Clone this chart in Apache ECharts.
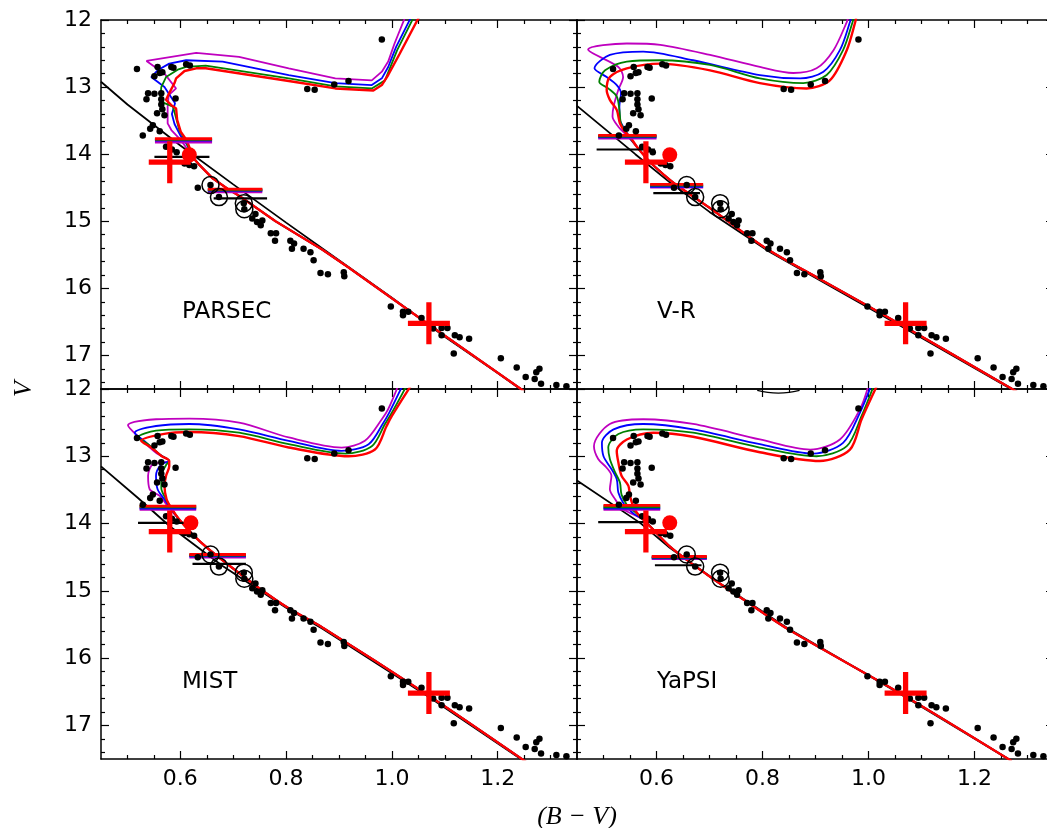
<!DOCTYPE html>
<html>
<head>
<meta charset="utf-8">
<script src="https://cdn.jsdelivr.net/npm/echarts@6/dist/echarts.min.js"></script>
<style>
  html, body { margin: 0; padding: 0; background: #fff; }
  #chart { width: 1047px; height: 828px; }
</style>
</head>
<body>
<div id="chart"></div>
<script>
// tick labels
const majorX = [0.6, 0.8, 1.0, 1.2];
const minorX = [0.5, 0.55, 0.65, 0.7, 0.75, 0.85, 0.9, 0.95, 1.05, 1.1, 1.15, 1.25, 1.3];
const majorY = [12, 13, 14, 15, 16, 17];
const minorY = [12.2, 12.4, 12.6, 12.8, 13.2, 13.4, 13.6, 13.8, 14.2, 14.4, 14.6, 14.8,
  15.2, 15.4, 15.6, 15.8, 16.2, 16.4, 16.6, 16.8, 17.2, 17.4];
const panelNames = ['PARSEC', 'V-R', 'MIST', 'YaPSI'];

// observed stars (B-V, V), same in every panel
const stars = [
  [0.518,12.73],[0.557,12.70],[0.561,12.79],[0.551,12.84],[0.566,12.78],[0.583,12.70],[0.587,12.71],[0.611,12.66],[0.618,12.68],
  [0.539,13.09],[0.536,13.18],[0.551,13.10],[0.564,13.09],[0.564,13.18],[0.591,13.17],[0.564,13.26],[0.566,13.33],[0.556,13.39],
  [0.570,13.42],[0.548,13.57],[0.543,13.62],[0.561,13.66],[0.529,13.72],
  [0.573,13.89],[0.584,13.93],[0.593,13.97],[0.608,14.14],[0.617,14.16],[0.626,14.18],[0.633,14.50],
  [0.657,14.46],[0.673,14.64],[0.720,14.73],[0.721,14.82],
  [0.742,14.89],[0.736,14.96],[0.745,15.01],[0.752,15.06],[0.755,14.99],[0.771,15.18],[0.781,15.18],[0.779,15.29],
  [0.808,15.29],[0.815,15.33],[0.811,15.41],[0.833,15.41],[0.846,15.46],[0.852,15.58],[0.865,15.77],[0.879,15.79],
  [0.909,15.76],[0.910,15.82],
  [0.998,16.27],[1.021,16.35],[1.021,16.40],[1.031,16.35],[1.056,16.44],[1.078,16.60],[1.094,16.59],[1.105,16.59],
  [1.094,16.70],[1.119,16.70],[1.128,16.73],[1.146,16.75],[1.117,16.97],[1.206,17.04],[1.236,17.18],[1.253,17.32],
  [1.270,17.35],[1.273,17.25],[1.279,17.20],[1.282,17.42],[1.311,17.44],[1.330,17.46],
  [0.981,12.29],[0.840,13.03],[0.854,13.04],[0.891,12.96],[0.918,12.91]
];
const circled = [[0.657,14.46],[0.673,14.64],[0.720,14.73],[0.721,14.82]];
const crosses = [[0.58,14.12],[1.07,16.52]];

// PARSEC
const parsecMagenta = [[1.028,11.9],[1.005,12.35],[0.993,12.62],[0.981,12.77],[0.962,12.90],[0.893,12.87],[0.805,12.72],
  [0.711,12.55],[0.630,12.49],[0.536,12.61],[0.570,12.80],[0.592,13.02],[0.578,13.12],[0.576,13.29],[0.576,13.54],
  [0.583,13.64],[0.601,13.79]];
const parsecBlue = [[1.04,11.9],[1.008,12.4],[0.993,12.70],[0.981,12.87],[0.962,12.97],[0.893,12.94],[0.805,12.82],
  [0.680,12.62],[0.611,12.60],[0.579,12.65],[0.557,12.75],[0.545,12.85],[0.570,13.0],[0.590,13.24],[0.584,13.40],
  [0.589,13.55],[0.600,13.72],[0.612,13.85]];
const parsecGreen = [[1.045,11.9],[1.01,12.45],[0.987,12.90],[0.962,13.02],[0.893,12.99],[0.805,12.87],[0.648,12.68],
  [0.611,12.70],[0.595,12.74],[0.573,12.85],[0.564,13.0],[0.562,13.17],[0.570,13.24],[0.586,13.29],[0.593,13.49],
  [0.598,13.64],[0.609,13.79]];
const parsecRed = [[1.055,11.9],[1.015,12.5],[0.993,12.82],[0.981,12.97],[0.965,13.05],[0.893,13.02],[0.805,12.91],
  [0.648,12.72],[0.630,12.72],[0.608,12.76],[0.592,12.87],[0.589,12.94],[0.579,13.09],[0.573,13.19],[0.583,13.27],
  [0.592,13.32],[0.594,13.49],[0.601,13.67],[0.612,13.79]];
const parsecMS = [[0.625,14.06],[0.636,14.16],[0.661,14.36],[0.692,14.53],[0.711,14.62],[0.78,15.0],[0.868,15.42],
  [0.918,15.69],[1.059,16.48],[1.253,17.55]];
const parsecZams = [[0.45,12.92],[0.5,13.26],[0.6,13.87],[0.7,14.45],[0.8,15.02],[0.9,15.58],[1.0,16.14],[1.1,16.72],
  [1.2,17.26],[1.26,17.6]];
const parsecBars = [[0.552,0.660,13.82,13.79,13.78,13.77],[0.652,0.755,14.56,14.54,14.53,14.52]];
const parsecBlackBars = [[0.551,0.655,14.04],[0.663,0.764,14.66]];
const parsecRedDot = [[0.617,14.01]];

// V-R
const vrMagenta = [[0.962,11.95],[0.959,12.03],[0.934,12.45],[0.902,12.72],[0.858,12.79],[0.795,12.70],[0.701,12.52],
  [0.607,12.37],[0.544,12.35],[0.471,12.44],[0.528,12.70],[0.537,12.85],[0.528,13.04],[0.519,13.29],[0.517,13.44],
  [0.528,13.59],[0.544,13.72]];
const vrBlue = [[0.967,11.95],[0.965,12.03],[0.946,12.45],[0.915,12.77],[0.871,12.87],[0.795,12.82],[0.669,12.60],
  [0.575,12.47],[0.512,12.52],[0.483,12.72],[0.506,12.85],[0.525,12.97],[0.533,13.09],[0.530,13.29],[0.531,13.49],
  [0.541,13.64],[0.547,13.72]];
const vrGreen = [[0.972,11.95],[0.970,12.03],[0.952,12.45],[0.921,12.82],[0.877,12.94],[0.795,12.87],[0.701,12.67],
  [0.607,12.60],[0.544,12.62],[0.503,12.75],[0.492,12.92],[0.509,13.02],[0.525,13.14],[0.530,13.34],[0.533,13.54],
  [0.544,13.69]];
const vrRed = [[0.977,11.95],[0.975,12.03],[0.959,12.45],[0.927,12.90],[0.883,13.02],[0.795,12.94],[0.701,12.75],
  [0.607,12.65],[0.544,12.72],[0.512,12.85],[0.506,13.04],[0.512,13.19],[0.525,13.34],[0.531,13.54],[0.541,13.67],
  [0.550,13.74]];
const vrMS = [[0.563,13.89],[0.588,14.12],[0.613,14.30],[0.638,14.46],[0.70,14.80],[0.808,15.41],[0.908,15.86],
  [1.07,16.58],[1.28,17.54]];
const vrZams = [[0.45,13.28],[0.56,14.0],[0.625,14.42],[0.70,14.86],[0.808,15.43],[0.908,15.88],[1.07,16.6],[1.28,17.55]];
const vrBars = [[0.490,0.600,13.76,13.74,13.73,13.72],[0.588,0.688,14.49,14.48,14.46,14.45]];
const vrBlackBars = [[0.487,0.597,13.93],[0.594,0.682,14.58]];
const vrRedDot = [[0.625,14.01]];

// MIST
const mistMagenta = [[1.012,11.95],[0.993,12.30],[0.981,12.45],[0.949,12.77],[0.905,12.87],[0.805,12.72],[0.711,12.50],
  [0.617,12.44],[0.554,12.45],[0.501,12.54],[0.526,12.75],[0.554,12.95],[0.579,13.07],[0.548,13.12],[0.539,13.29],
  [0.542,13.49],[0.561,13.59],[0.576,13.74]];
const mistBlue = [[1.02,11.95],[0.995,12.35],[0.984,12.50],[0.956,12.82],[0.905,12.92],[0.805,12.77],[0.711,12.60],
  [0.617,12.52],[0.554,12.55],[0.514,12.65],[0.536,12.80],[0.560,12.97],[0.579,13.07],[0.564,13.12],[0.554,13.29],
  [0.557,13.49],[0.570,13.64],[0.580,13.76]];
const mistGreen = [[1.028,11.95],[0.998,12.38],[0.987,12.52],[0.962,12.85],[0.912,12.96],[0.805,12.82],[0.711,12.65],
  [0.617,12.60],[0.554,12.62],[0.520,12.72],[0.539,12.82],[0.562,12.98],[0.579,13.07],[0.573,13.13],[0.564,13.29],
  [0.564,13.47],[0.573,13.64],[0.582,13.76]];
const mistRed = [[1.036,11.95],[1.0,12.4],[0.990,12.55],[0.968,12.90],[0.918,13.0],[0.805,12.87],[0.711,12.70],
  [0.617,12.64],[0.567,12.67],[0.526,12.77],[0.545,12.87],[0.565,13.0],[0.579,13.07],[0.579,13.15],[0.573,13.29],
  [0.570,13.44],[0.574,13.64],[0.583,13.77]];
const mistMS = [[0.598,13.94],[0.623,14.16],[0.655,14.39],[0.692,14.62],[0.742,14.92],[0.805,15.26],[0.868,15.54],
  [1.07,16.56],[1.255,17.55]];
const mistZams = [[0.45,13.15],[0.52,13.62],[0.58,14.04],[0.68,14.63],[0.80,15.25],[0.868,15.56],[1.07,16.58],[1.255,17.56]];
const mistBars = [[0.523,0.630,13.79,13.77,13.75,13.74],[0.617,0.724,14.50,14.48,14.47,14.46]];
const mistBlackBars = [[0.520,0.611,13.99],[0.623,0.724,14.60]];
const mistRedDot = [[0.620,13.99]];

// YaPSI
const yapsiMagenta = [[1.0,11.95],[0.984,12.30],[0.946,12.75],[0.890,12.90],[0.795,12.75],[0.669,12.52],[0.575,12.45],
  [0.512,12.52],[0.482,12.85],[0.490,13.04],[0.506,13.17],[0.515,13.29],[0.512,13.49],[0.522,13.64],[0.534,13.77],
  [0.552,13.85]];
const yapsiBlue = [[1.005,11.95],[0.984,12.35],[0.952,12.80],[0.896,12.96],[0.795,12.82],[0.669,12.60],[0.575,12.52],
  [0.519,12.60],[0.497,12.80],[0.500,13.0],[0.515,13.19],[0.525,13.34],[0.528,13.54],[0.537,13.69],[0.548,13.79],
  [0.558,13.86]];
const yapsiGreen = [[1.01,11.95],[0.987,12.40],[0.959,12.85],[0.902,13.0],[0.795,12.87],[0.669,12.65],[0.575,12.60],
  [0.528,12.67],[0.509,12.87],[0.512,13.04],[0.522,13.24],[0.531,13.39],[0.534,13.57],[0.544,13.72],[0.558,13.82]];
const yapsiRed = [[1.016,11.95],[0.987,12.45],[0.965,12.90],[0.908,13.07],[0.795,12.94],[0.669,12.71],[0.594,12.65],
  [0.544,12.75],[0.525,12.92],[0.528,13.09],[0.534,13.29],[0.547,13.44],[0.550,13.59],[0.556,13.74],[0.563,13.84]];
const yapsiMS = [[0.575,13.94],[0.600,14.14],[0.625,14.34],[0.657,14.54],[0.701,14.79],[0.764,15.13],[0.846,15.56],
  [1.07,16.57],[1.27,17.53]];
const yapsiZams = [[0.45,13.36],[0.569,13.99],[0.625,14.36],[0.72,14.89],[0.795,15.28],[0.846,15.55],[1.07,16.58],[1.27,17.53]];
const yapsiBars = [[0.500,0.607,13.79,13.77,13.75,13.73],[0.591,0.695,14.52,14.51,14.50,14.49]];
const yapsiBlackBars = [[0.490,0.591,13.98],[0.597,0.685,14.62]];
const yapsiRedDot = [[0.625,13.99]];
const yapsiArc = [[0.79,12.02],[0.81,12.05],[0.83,12.06],[0.85,12.05],[0.87,12.02]];

const panels = [
  {iso: [parsecMagenta, parsecBlue, parsecGreen, parsecRed], ms: parsecMS, zams: parsecZams,
   bars: parsecBars, kbars: parsecBlackBars, rdot: parsecRedDot, smooth: 0},
  {iso: [vrMagenta, vrBlue, vrGreen, vrRed], ms: vrMS, zams: vrZams,
   bars: vrBars, kbars: vrBlackBars, rdot: vrRedDot, smooth: 0.3},
  {iso: [mistMagenta, mistBlue, mistGreen, mistRed], ms: mistMS, zams: mistZams,
   bars: mistBars, kbars: mistBlackBars, rdot: mistRedDot, smooth: 0.3},
  {iso: [yapsiMagenta, yapsiBlue, yapsiGreen, yapsiRed], ms: yapsiMS, zams: yapsiZams,
   bars: yapsiBars, kbars: yapsiBlackBars, rdot: yapsiRedDot, smooth: 0.3}
];

const isoColors = ['#BF00BF', '#0000FF', '#008000', '#FF0000'];
const plusPath = 'path://M10.5,0H13.5V10.5H24V13.5H13.5V24H10.5V13.5H0V10.5H10.5Z';

const grids = [
  {left: 101, top: 20, width: 476, height: 369},
  {left: 577, top: 20, width: 477, height: 369},
  {left: 101, top: 389, width: 476, height: 370},
  {left: 577, top: 389, width: 477, height: 370}
];

const tickFont = {color: '#000', fontSize: 22, fontFamily: 'DejaVu Sans'};

function makeX(gi, pos, ticks, len, line, labels) {
  return {
    type: 'value', gridIndex: gi, position: pos, min: 0.45, max: 1.35,
    axisLine: {show: line, onZero: false, lineStyle: {color: '#000', width: 1.5}},
    axisTick: {show: true, inside: true, length: len, customValues: ticks, lineStyle: {color: '#000', width: 1.2}},
    axisLabel: labels ? Object.assign({show: true, customValues: majorX, margin: 9,
      formatter: v => v.toFixed(1)}, tickFont) : {show: false},
    splitLine: {show: false}
  };
}
function makeY(gi, pos, ticks, len, line, labels) {
  return {
    type: 'value', gridIndex: gi, position: pos, min: 12, max: 17.5, inverse: true,
    axisLine: {show: line, onZero: false, lineStyle: {color: '#000', width: 1.5}},
    axisTick: {show: true, inside: true, length: len, customValues: ticks, lineStyle: {color: '#000', width: 1.2}},
    axisLabel: labels ? Object.assign({show: true, customValues: majorY, margin: 9,
      formatter: v => String(v)}, tickFont) : {show: false},
    splitLine: {show: false}
  };
}

const xAxes = [], yAxes = [], series = [];
grids.forEach((g, gi) => {
  const bottomRow = gi >= 2, leftCol = gi % 2 === 0;
  xAxes.push(makeX(gi, 'bottom', majorX, 8, true, bottomRow));
  xAxes.push(makeX(gi, 'bottom', minorX, 4, false, false));
  xAxes.push(makeX(gi, 'top', majorX, 8, true, false));
  xAxes.push(makeX(gi, 'top', minorX, 4, false, false));
  yAxes.push(makeY(gi, 'left', majorY, 8, true, leftCol));
  yAxes.push(makeY(gi, 'left', minorY, 4, false, false));
  yAxes.push(makeY(gi, 'right', majorY, 8, true, false));
  yAxes.push(makeY(gi, 'right', minorY, 4, false, false));
});

panels.forEach((p, gi) => {
  const ax = {xAxisIndex: gi * 4, yAxisIndex: gi * 4};
  const line = (data, color, width, smooth) => Object.assign({
    type: 'line', data: data, symbol: 'none', smooth: smooth || 0,
    lineStyle: {color: color, width: width, opacity: 1}, itemStyle: {color: color}, z: 2
  }, ax);
  series.push(line(p.zams, '#000', 1.8, 0));
  p.iso.forEach((iso, c) => {
    series.push(line(iso.concat(p.ms), isoColors[c], c === 3 ? 2.4 : 1.8, p.smooth));
  });
  p.bars.forEach(b => {
    for (let c = 0; c < 4; c++) {
      series.push(line([[b[0], b[2 + c]], [b[1], b[2 + c]]], isoColors[c], 2.8, 0));
    }
  });
  p.kbars.forEach(b => {
    series.push(line([[b[0], b[2]], [b[1], b[2]]], '#000', 2.2, 0));
  });
  if (gi === 3) series.push(line(yapsiArc, '#000', 1.2, 0.4));
  series.push(Object.assign({type: 'scatter', data: stars, symbol: 'circle', symbolSize: 6.5,
    itemStyle: {color: '#000', opacity: 1}, z: 3}, ax));
  series.push(Object.assign({type: 'scatter', data: circled, symbol: 'circle', symbolSize: 17,
    itemStyle: {color: 'rgba(0,0,0,0)', borderColor: '#000', borderWidth: 1.5, opacity: 1}, z: 3}, ax));
  series.push(Object.assign({type: 'scatter', data: p.rdot, symbol: 'circle', symbolSize: 15,
    itemStyle: {color: '#FF0000', opacity: 1}, z: 4}, ax));
  series.push(Object.assign({type: 'scatter', data: crosses, symbol: plusPath, symbolSize: 42,
    itemStyle: {color: '#FF0000', opacity: 1}, z: 5}, ax));
});

const labelPos = [[182, 301], [657, 301], [182, 671], [657, 671]];
const graphic = panelNames.map((name, i) => ({
  type: 'text', left: labelPos[i][0], top: labelPos[i][1],
  style: {text: name, fill: '#000', font: '23px "DejaVu Sans"'}
}));
graphic.push({
  type: 'text', x: 577, y: 817,
  style: {text: '(B \u2212 V)', fill: '#000', font: 'italic 26px "Liberation Serif"',
    textAlign: 'center', textVerticalAlign: 'middle'}
});
graphic.push({
  type: 'text', x: 24, y: 389, rotation: Math.PI / 2,
  style: {text: 'V', fill: '#000', font: 'italic 26px "Liberation Serif"',
    textAlign: 'center', textVerticalAlign: 'middle'}
});

const chart = echarts.init(document.getElementById('chart'), null, {renderer: 'canvas'});
chart.setOption({
  animation: false,
  backgroundColor: '#fff',
  grid: grids.map(g => Object.assign({outerBoundsMode: 'none'}, g)),
  xAxis: xAxes,
  yAxis: yAxes,
  series: series,
  graphic: graphic
});
</script>
</body>
</html>
